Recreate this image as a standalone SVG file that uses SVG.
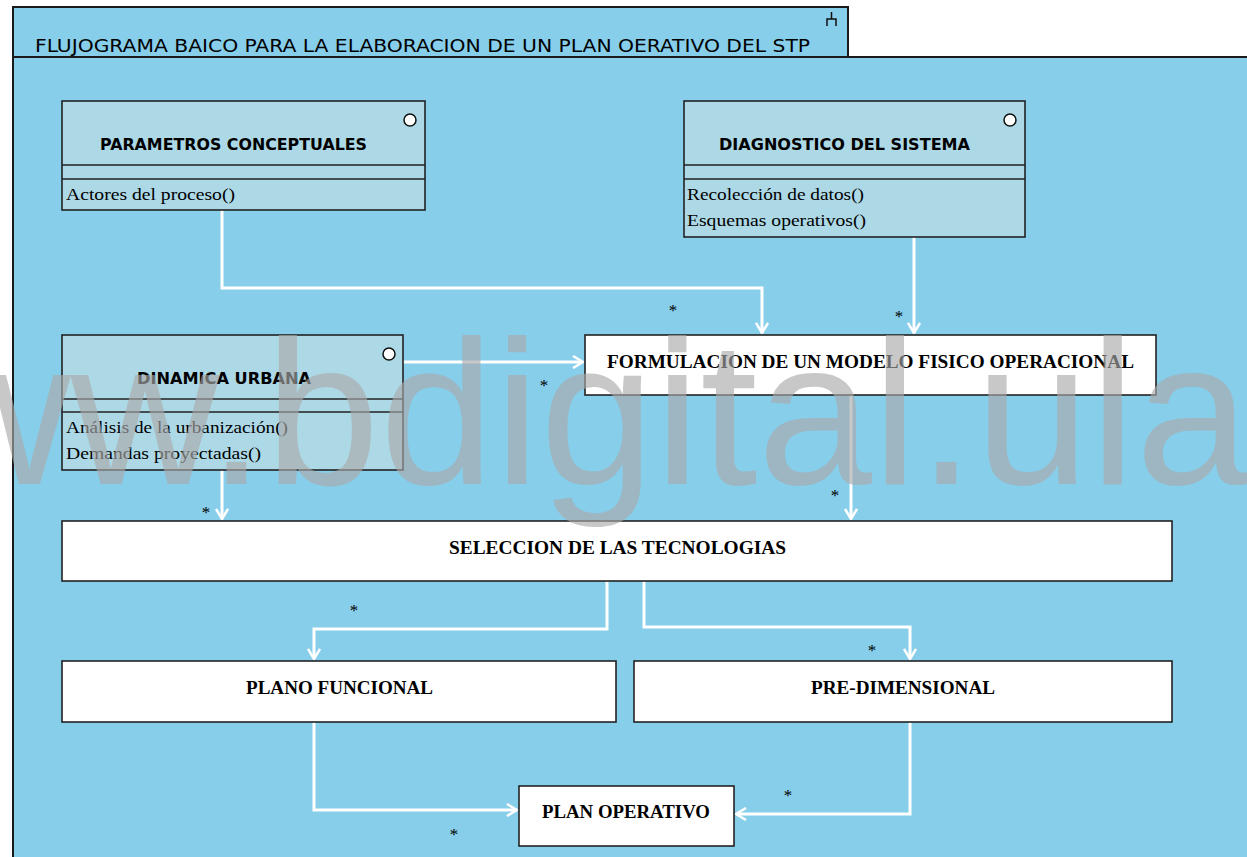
<svg xmlns="http://www.w3.org/2000/svg" width="1247" height="857" viewBox="0 0 1247 857">
  <style>
    .frame { fill: #87CEEB; stroke: #1a1a1a; stroke-width: 2; }
    .cls { fill: #ADD8E6; stroke: #222; stroke-width: 1.6; }
    .box { fill: #ffffff; stroke: #222; stroke-width: 1.6; }
    .sep { stroke: #222; stroke-width: 1.6; }
    .ico { fill: #ffffff; stroke: #111; stroke-width: 1.5; }
    .title { font-family: "DejaVu Sans Condensed", "DejaVu Sans", sans-serif; font-size: 18px; fill: #000; }
    .cname { font-family: "DejaVu Sans", Verdana, sans-serif; font-weight: bold; font-size: 15px; fill: #000; }
    .op { font-family: "Liberation Serif", "Times New Roman", serif; font-size: 17px; fill: #000; }
    .lbl { font-family: "Liberation Serif", "Times New Roman", serif; font-weight: bold; font-size: 19px; fill: #000; }
    .mult { font-family: "Liberation Serif", "Times New Roman", serif; font-size: 17px; fill: #000; text-anchor: middle; }
    .conn { fill: none; stroke: #ffffff; stroke-width: 3; }
    .wm { font-family: "Liberation Sans", Arial, sans-serif; font-size: 206px; fill: #A9A9A9; fill-opacity: 0.64; }
  </style>
  <defs>
    <marker id="open" viewBox="0 0 12 14" refX="11" refY="7" markerWidth="12" markerHeight="14" markerUnits="userSpaceOnUse" orient="auto">
      <path d="M1,1 L11,7 L1,13" fill="none" stroke="#ffffff" stroke-width="2.5"/>
    </marker>
  </defs>

  <rect width="1247" height="857" fill="#ffffff"/>

  <!-- package frame with its name tab -->
  <g id="frame">
    <rect class="frame" x="13" y="57" width="1250" height="820"/>
    <rect class="frame" x="13" y="7" width="835" height="50"/>
    <path d="M827,26 V19 H836 V26 M831.5,19 V12" fill="none" stroke="#111" stroke-width="1.5"/>
    <text class="title" x="35" y="52" textLength="775" lengthAdjust="spacingAndGlyphs">FLUJOGRAMA BAICO PARA LA ELABORACION DE UN PLAN OERATIVO DEL STP</text>
  </g>

  <!-- connectors -->
  <g id="connectors">
    <path class="conn" d="M222,210 V288 H762 V333" marker-end="url(#open)"/>
    <path class="conn" d="M914,237 V333" marker-end="url(#open)"/>
    <path class="conn" d="M403,362 H583" marker-end="url(#open)"/>
    <path class="conn" d="M222,470 V519" marker-end="url(#open)"/>
    <path class="conn" d="M851,395 V519" marker-end="url(#open)"/>
    <path class="conn" d="M607,581 V629 H314 V659" marker-end="url(#open)"/>
    <path class="conn" d="M644,581 V627 H910 V659" marker-end="url(#open)"/>
    <path class="conn" d="M314,722 V810 H517" marker-end="url(#open)"/>
    <path class="conn" d="M910,722 V814 H736" marker-end="url(#open)"/>
    <text class="mult" x="673" y="316">*</text>
    <text class="mult" x="899" y="322">*</text>
    <text class="mult" x="544" y="391">*</text>
    <text class="mult" x="206" y="518">*</text>
    <text class="mult" x="835" y="501">*</text>
    <text class="mult" x="354" y="616">*</text>
    <text class="mult" x="872" y="656">*</text>
    <text class="mult" x="454" y="840">*</text>
    <text class="mult" x="788" y="801">*</text>
  </g>

  <g id="parametros">
    <rect class="cls" x="62" y="101" width="363" height="109"/>
    <line class="sep" x1="62" y1="165" x2="425" y2="165"/>
    <line class="sep" x1="62" y1="179" x2="425" y2="179"/>
    <circle class="ico" cx="410" cy="120" r="6"/>
    <text class="cname" x="100" y="150" textLength="267" lengthAdjust="spacingAndGlyphs">PARAMETROS CONCEPTUALES</text>
    <text class="op" x="66" y="200" textLength="169" lengthAdjust="spacingAndGlyphs">Actores del proceso()</text>
  </g>

  <g id="diagnostico">
    <rect class="cls" x="684" y="101" width="341" height="136"/>
    <line class="sep" x1="684" y1="165" x2="1025" y2="165"/>
    <line class="sep" x1="684" y1="179" x2="1025" y2="179"/>
    <circle class="ico" cx="1010" cy="120" r="6"/>
    <text class="cname" x="719" y="150" textLength="251" lengthAdjust="spacingAndGlyphs">DIAGNOSTICO DEL SISTEMA</text>
    <text class="op" x="687" y="200" textLength="177" lengthAdjust="spacingAndGlyphs">Recolección de datos()</text>
    <text class="op" x="687" y="226" textLength="179" lengthAdjust="spacingAndGlyphs">Esquemas operativos()</text>
  </g>

  <g id="dinamica">
    <rect class="cls" x="62" y="335" width="341" height="135"/>
    <line class="sep" x1="62" y1="399" x2="403" y2="399"/>
    <line class="sep" x1="62" y1="412" x2="403" y2="412"/>
    <circle class="ico" cx="389" cy="354" r="6"/>
    <text class="cname" x="137" y="384" textLength="174" lengthAdjust="spacingAndGlyphs">DINAMICA URBANA</text>
    <text class="op" x="66" y="433" textLength="222" lengthAdjust="spacingAndGlyphs">Análisis de la urbanización()</text>
    <text class="op" x="66" y="459" textLength="195" lengthAdjust="spacingAndGlyphs">Demandas proyectadas()</text>
  </g>

  <g id="formulacion">
    <rect class="box" x="585" y="335" width="571" height="60"/>
    <text class="lbl" x="607" y="368" textLength="527" lengthAdjust="spacingAndGlyphs">FORMULACION DE UN MODELO FISICO OPERACIONAL</text>
  </g>

  <g id="seleccion">
    <rect class="box" x="62" y="521" width="1110" height="60"/>
    <text class="lbl" x="449" y="554" textLength="337" lengthAdjust="spacingAndGlyphs">SELECCION DE LAS TECNOLOGIAS</text>
  </g>

  <g id="plano-funcional">
    <rect class="box" x="62" y="661" width="554" height="61"/>
    <text class="lbl" x="246" y="694" textLength="187" lengthAdjust="spacingAndGlyphs">PLANO FUNCIONAL</text>
  </g>

  <g id="pre-dimensional">
    <rect class="box" x="634" y="661" width="538" height="61"/>
    <text class="lbl" x="811" y="694" textLength="184" lengthAdjust="spacingAndGlyphs">PRE-DIMENSIONAL</text>
  </g>

  <g id="plan-operativo">
    <rect class="box" x="519" y="786" width="215" height="60"/>
    <text class="lbl" x="542" y="818" textLength="168" lengthAdjust="spacingAndGlyphs">PLAN OPERATIVO</text>
  </g>

  <!-- repository watermark across the sheet -->
  <text class="wm" x="1250" y="484" text-anchor="end">www.bdigital.ula</text>
</svg>
